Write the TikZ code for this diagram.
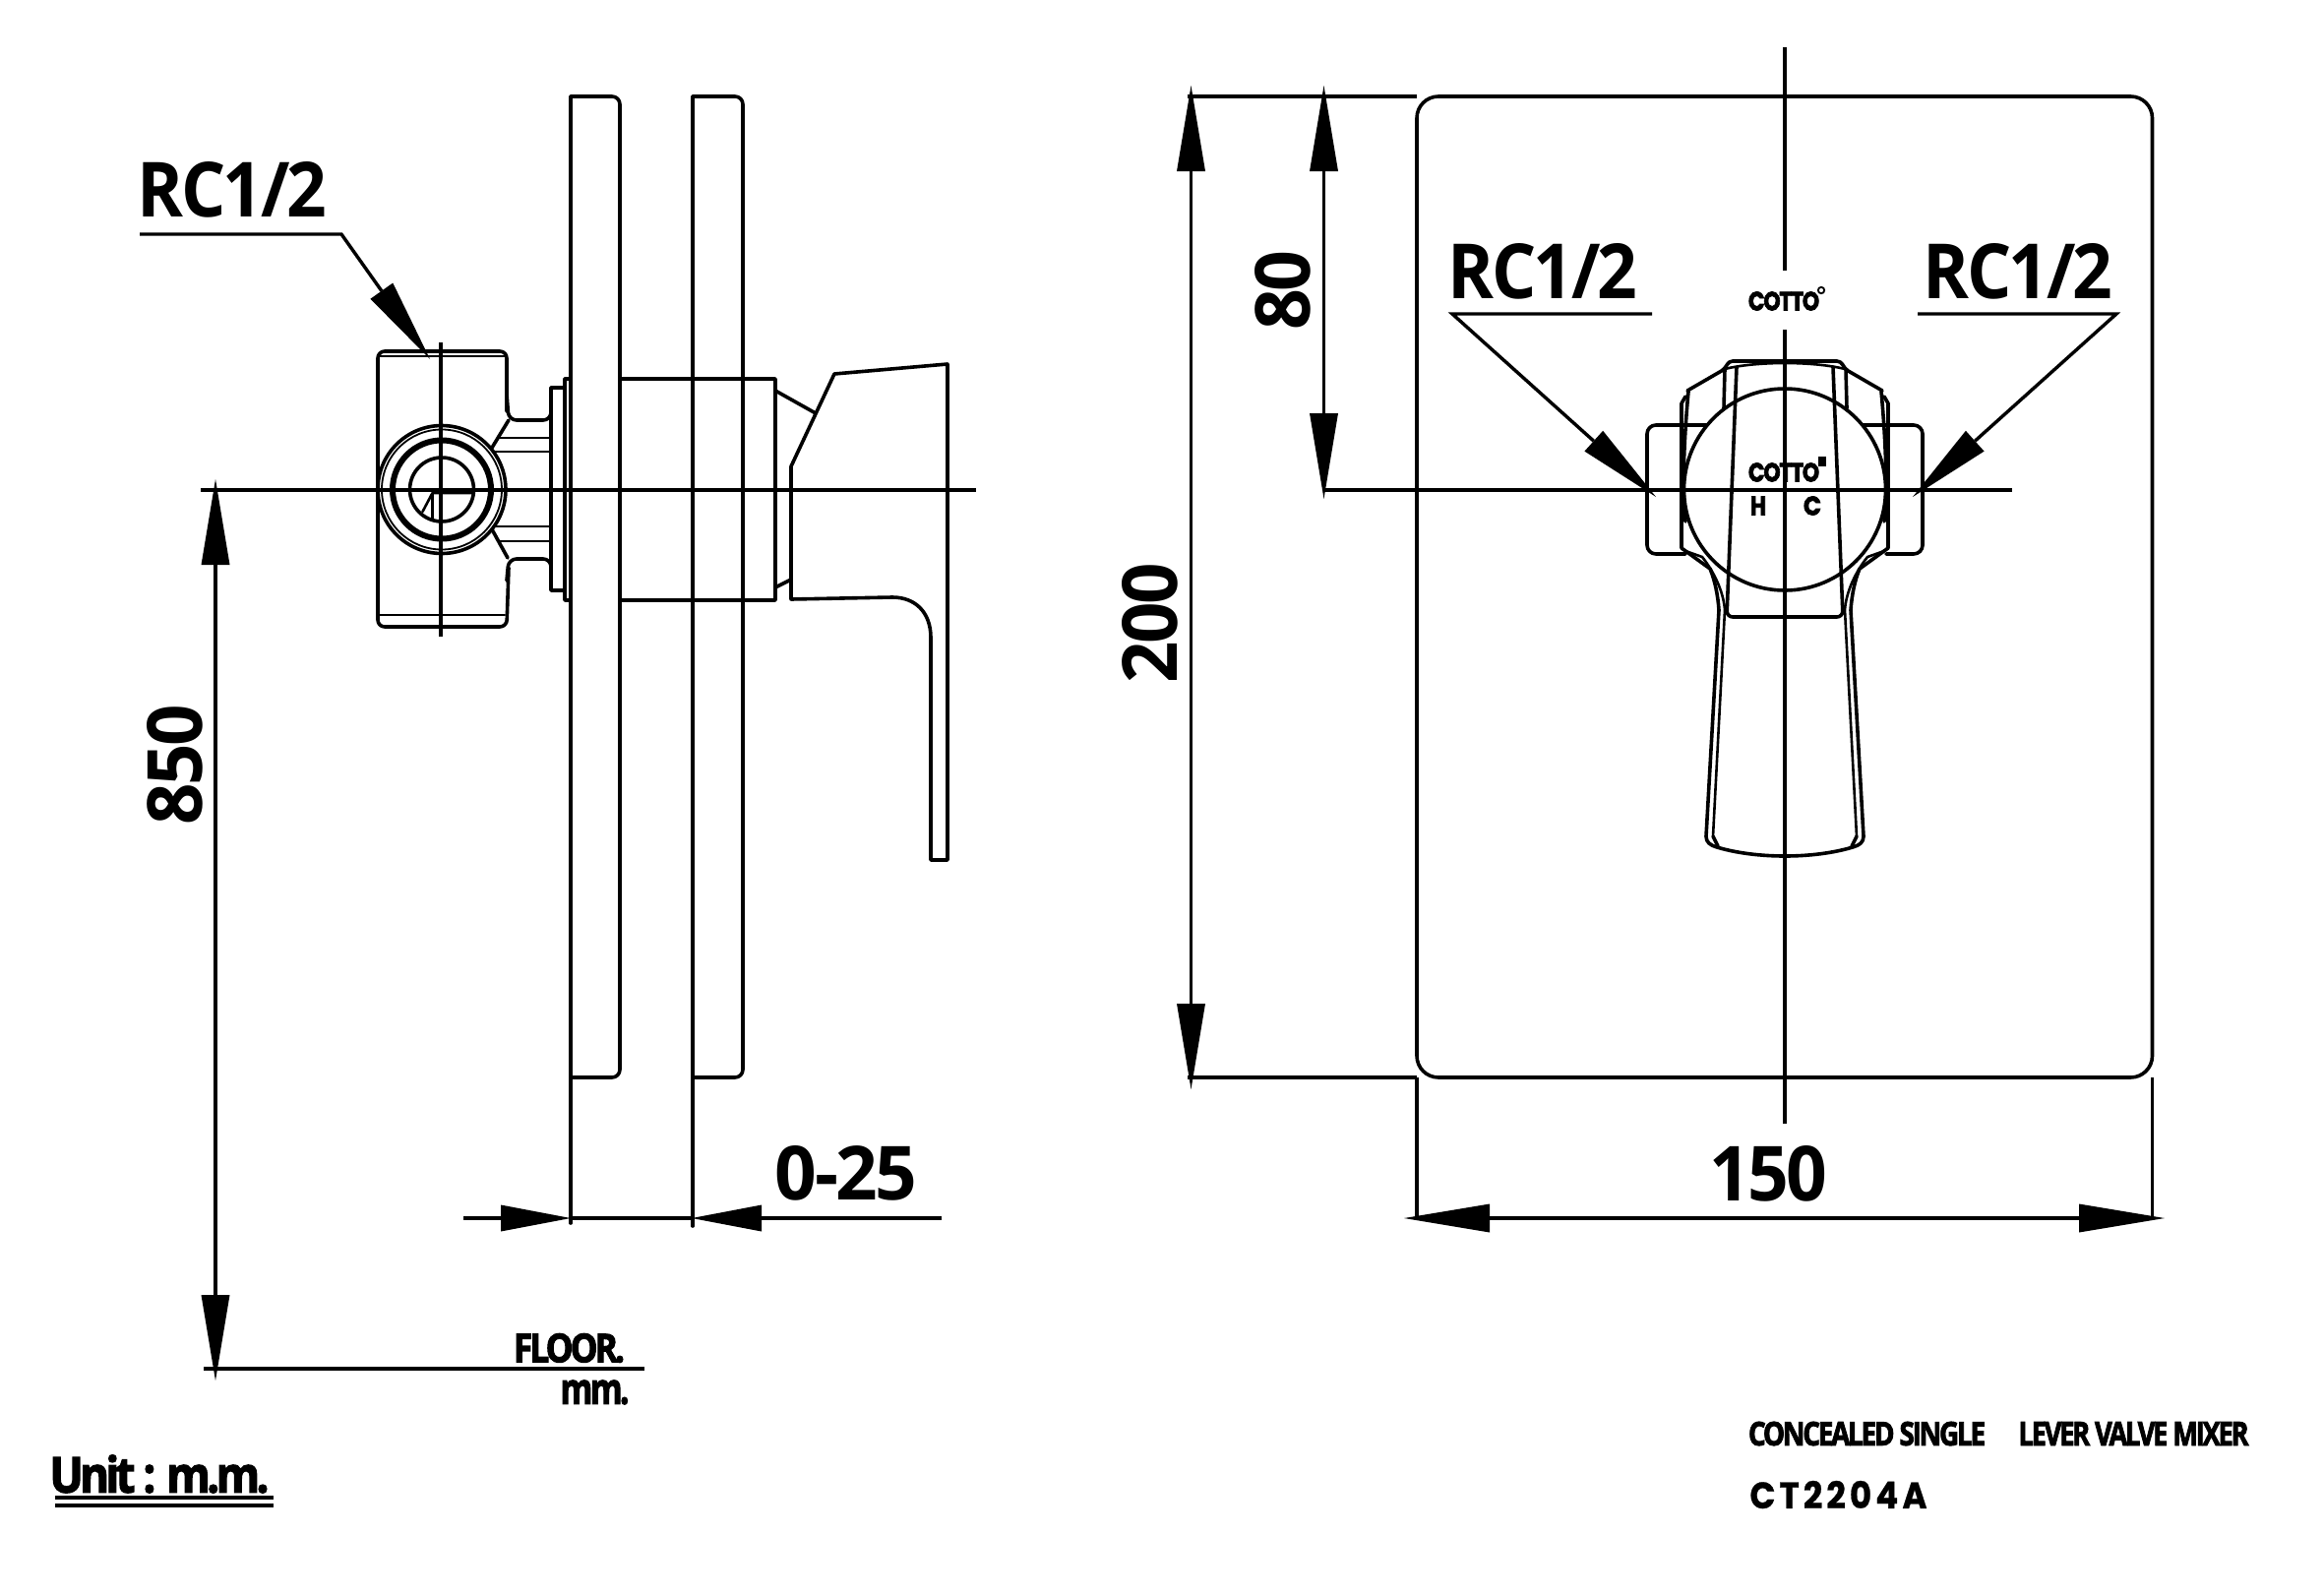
\documentclass[tikz,border=0pt]{standalone}
\usepackage{fontspec}
\usepackage{graphicx}
\usetikzlibrary{arrows.meta}
\setmainfont{Open Sans}
\newfontfamily\dimfont[LetterSpace=-3.5]{Open Sans}
\newfontfamily\heavyfont[FakeBold=2.8,LetterSpace=-8]{Open Sans}
\newfontfamily\logofont[FakeBold=3,LetterSpace=-5]{Poppins}
\newfontfamily\widefont[FakeBold=0.8,LetterSpace=12]{Poppins}
\newcommand{\ftxt}[3]{\resizebox{#1pt}{#2pt}{\dimfont\bfseries #3}}
\newcommand{\htxt}[3]{\resizebox{#1pt}{#2pt}{\heavyfont\bfseries #3}}
\newcommand{\ltxt}[3]{\resizebox{#1pt}{#2pt}{\logofont\bfseries #3}}
\tikzset{
  x=1pt,y=-1pt,
  ln/.style={line width=3.6pt,line cap=round,line join=round},
  thinln/.style={line width=2.6pt,line cap=round,line join=round},
  cl/.style={line width=3.4pt},
  lbl/.style={inner sep=0pt,outer sep=0pt,anchor=center},
  dimv/.style={line width=3.4pt,{Triangle[length=87pt,width=29pt,line width=0pt]}-{Triangle[length=87pt,width=29pt,line width=0pt]}},
  dimone/.style={line width=3.4pt,-{Triangle[length=71pt,width=27pt,line width=0pt]}},
  leader/.style={line width=3.4pt,line join=miter,-{Triangle[length=85pt,width=28pt,line width=0pt]}},
}
\begin{document}
\begin{tikzpicture}
\useasboundingbox (0,0) rectangle (2362,1622);
\fill[white] (0,0) rectangle (2362,1622);

% ---------- side view: plates
\draw[ln] (580,1243) -- (580,98) -- (620,98);
\draw[ln,rounded corners=8pt] (615,98) -- (630,98) -- (630,1095) -- (580,1095);
\draw[ln] (704,1246) -- (704,98) -- (745,98);
\draw[ln,rounded corners=8pt] (740,98) -- (755,98) -- (755,1095) -- (704,1095);

% valve body
\draw[ln,rounded corners=7pt] (515,418) -- (515,357) -- (384,357) -- (384,637) -- (515,637) -- (517,577);
\draw[thinln] (386,362) -- (513,362) (386,625) -- (513,625);
% necks
\draw[ln,rounded corners=8pt] (515,400) -- (517,427) -- (560,427) -- (560,400);
\draw[ln,rounded corners=8pt] (515,590) -- (517,568) -- (560,568) -- (560,590);
\draw[ln] (517,427) -- (500,455) (516,567) -- (500,538);
\draw[thinln] (508,445) -- (560,445) (502,459) -- (560,459) (502,535) -- (560,535) (508,550) -- (560,550);
% flanges
\draw[ln] (574,394) -- (560,394) -- (560,600) -- (574,600);
\draw[ln] (580,385) -- (574,385) -- (574,610) -- (580,610);
% ring set
\draw[ln] (449,497.5) circle[radius=65];
\draw[line width=1.8pt] (449,497.5) circle[radius=61];
\draw[line width=6pt] (449,497.5) circle[radius=50];
\draw[ln] (449,497.5) circle[radius=32.5];
\draw[thinln] (480,501) -- (439.5,501) -- (439.5,527) (439.5,501) -- (429.5,520);

% escutcheon and handle
\draw[ln] (630,385) -- (788,385) -- (788,610) -- (630,610);
\draw[ln] (788,397) -- (829,420) (788,597) -- (804,589);
\draw[ln] (804,609) -- (804,474) -- (848,380) -- (963,370) -- (963,874) -- (946,874) -- (946,648)
  .. controls (946,622) and (930,607) .. (907,607) -- cycle;

% side view centre lines
\draw[cl] (448,348) -- (448,647);
\coordinate (sideL) at (204,498);
\coordinate (sideR) at (992,498);
\draw[cl] (sideL) -- (sideR);

% 850 dimension
\coordinate (a850) at (219,487);
\coordinate (b850) at (219,1403);
\draw[dimv] (a850) -- (b850);
\coordinate (fl1) at (207,1391);
\coordinate (fl2) at (655,1391);
\draw[line width=4pt] (fl1) -- (fl2);
\node[lbl,rotate=90] (t850) at (178,777) {\ftxt{122}{56}{850}};
\node[lbl] (tfloor) at (578.5,1370) {\htxt{113}{29}{FLOOR.}};
\node[lbl] (tmm) at (604.5,1415) {\htxt{70}{24}{mm.}};

% 0-25 dimension
\coordinate (o1) at (471,1238);
\coordinate (o2) at (580,1238);
\coordinate (o3) at (703,1238);
\coordinate (o4) at (957,1238);
\draw[dimone] (o1) -- (o2);
\draw[dimone] (o4) -- (o3);
\draw[cl] (o2) -- (o3);
\node[lbl] (t025) at (860,1192.5) {\ftxt{144}{55}{0-25}};

% RC1/2 left
\coordinate (l1) at (142,238);
\coordinate (l2) at (347,238);
\coordinate (l3) at (437,365);
\draw[leader] (l1) -- (l2) -- (l3);
\node[lbl] (rc1) at (236,192.5) {\ftxt{193}{56}{RC1/2}};

% ---------- front view
\draw[ln,rounded corners=22pt] (1440,98) rectangle (2187.5,1095);

% lugs
\draw[ln,rounded corners=9pt] (1735,432) -- (1674,432) -- (1674,563) -- (1713,563);
\draw[ln,rounded corners=9pt] (1893,432) -- (1954,432) -- (1954,563) -- (1917,563);
% shell
\draw[ln] (1709,557) -- (1709,410) -- (1713,403);
\draw[ln] (1919,557) -- (1919,410) -- (1915,403);
\draw[ln] (1713,530) .. controls (1709,500) and (1712,440) .. (1716,398);
\draw[ln] (1915,530) .. controls (1919,500) and (1916,440) .. (1912,398);
\draw[ln,rounded corners=4pt] (1715,397) -- (1753,375) -- (1757,367) -- (1871,367) -- (1875,375) -- (1913,397);
\draw[thinln] (1753,375) .. controls (1785,367) and (1843,367) .. (1875,375);
\draw[ln] (1753,375) -- (1752,415) (1876,375) -- (1877,415);
% inner handle
\draw[ln,rounded corners=6pt] (1765,373) -- (1755,627) -- (1873,627) -- (1863,373);
% lower shoulders
\draw[ln] (1709,557) -- (1738,578) .. controls (1743,590) and (1746,605) .. (1747,620) -- (1734,850);
\draw[ln] (1919,557) -- (1890,578) .. controls (1885,590) and (1882,605) .. (1881,620) -- (1894,850);
\draw[thinln] (1713,560) -- (1730,566) .. controls (1745,585) and (1752,605) .. (1753,620) -- (1741,850);
\draw[thinln] (1915,560) -- (1898,566) .. controls (1883,585) and (1876,605) .. (1875,620) -- (1887,850);
% lever bottom
\draw[ln] (1734,850) .. controls (1734,856) and (1738,859) .. (1745,861) .. controls (1785,873) and (1843,873) .. (1883,861) .. controls (1890,859) and (1894,856) .. (1894,850);
\draw[ln] (1741,850) -- (1746,860) (1887,850) -- (1882,860);
% dial
\draw[ln] (1814,497.5) circle[radius=102.5];

% centre lines
\coordinate (fL) at (1345,498);
\coordinate (fR) at (2045,498);
\draw[cl] (fL) -- (fR);
\draw[cl] (1814,48) -- (1814,275) (1814,335) -- (1814,1142);

% logos
\node[lbl] (logoa) at (1813,306) {\ltxt{72}{19}{COTTO}};
\draw[line width=1.8pt] (1851,295) circle[radius=3.2];
\node[lbl] (logob) at (1813,480) {\ltxt{72}{19}{COTTO}};
\fill (1848,464) rectangle (1856,474);
\node[lbl] (th) at (1787,514) {\ltxt{16}{19}{H}};
\node[lbl] (tc) at (1842,514) {\ltxt{18}{19}{C}};

% dimension 200
\coordinate (a200) at (1210.5,87);
\coordinate (b200) at (1210.5,1107);
\draw[cl] (1207,98) -- (1440,98) (1207,1095) -- (1440,1095);
\draw[dimv] (a200) -- (b200);
\node[lbl,rotate=90] (t200) at (1169,633) {\ftxt{122}{56}{200}};

% dimension 80
\coordinate (a80) at (1345.5,87);
\coordinate (b80) at (1345.5,507);
\draw[dimv] (a80) -- (b80);
\node[lbl,rotate=90] (t80) at (1304,295) {\ftxt{81}{56}{80}};

% dimension 150
\coordinate (a150) at (1427,1238);
\coordinate (b150) at (2200,1238);
\draw[cl] (1440,1095) -- (1440,1238) (2187.5,1095) -- (2187.5,1238);
\draw[dimv] (a150) -- (b150);
\node[lbl] (t150) at (1797,1193) {\ftxt{120}{56}{150}};

% RC1/2 front leaders
\coordinate (m1) at (1679,319);
\coordinate (m2) at (1476,319);
\coordinate (m3) at (1683,505);
\draw[leader] (m1) -- (m2) -- (m3);
\node[lbl] (rc2) at (1568,276) {\ftxt{193}{56}{RC1/2}};
\coordinate (r1) at (1949,319);
\coordinate (r2) at (2151,319);
\coordinate (r3) at (1944,505);
\draw[leader] (r1) -- (r2) -- (r3);
\node[lbl] (rc3) at (2051,276) {\ftxt{193}{56}{RC1/2}};

% notes
\node[lbl] (unit) at (162,1498) {\htxt{223}{38}{Unit : m.m.}};
\coordinate (u1) at (56,1522); \coordinate (u2) at (278,1522);
\coordinate (u3) at (56,1530); \coordinate (u4) at (278,1530);
\draw[line width=4pt] (u1) -- (u2) (u3) -- (u4);
\node[lbl] (title1) at (1897.5,1457) {\htxt{241}{24}{CONCEALED SINGLE}};
\node[lbl] (title2) at (2168.5,1457) {\htxt{234}{24}{LEVER VALVE MIXER}};
\node[lbl] (model) at (1868.5,1519) {\resizebox{180pt}{28pt}{\widefont\bfseries CT2204A}};
\end{tikzpicture}
\end{document}
